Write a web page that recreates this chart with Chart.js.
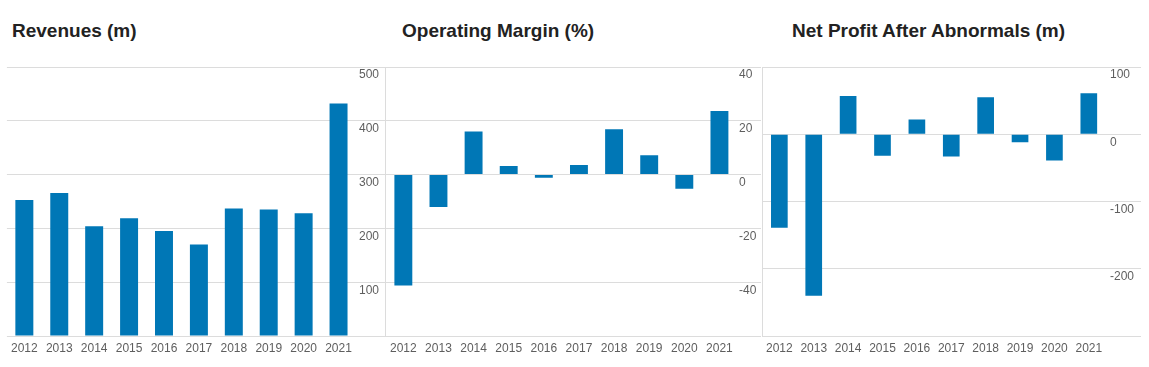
<!DOCTYPE html>
<html>
<head>
<meta charset="utf-8">
<script src="https://cdn.jsdelivr.net/npm/chart.js@4/dist/chart.umd.min.js"></script>
<style>
  body { margin: 0; background: #fff; width: 1149px; height: 367px; overflow: hidden; position: relative; }
  .title { position: absolute; top: 21px; font: bold 19px "Liberation Sans", Arial, sans-serif; line-height: 19px; color: #222; white-space: nowrap; }
  .box { position: absolute; top: 60px; height: 297px; }
</style>
</head>
<body>
<div class="title" style="left:12px">Revenues (m)</div>
<div class="title" style="left:402px">Operating Margin (%)</div>
<div class="title" style="left:792px">Net Profit After Abnormals (m)</div>

<div class="box" style="left:6px;width:379px"><canvas id="revenues"></canvas></div>
<div class="box" style="left:385px;width:376px"><canvas id="margin"></canvas></div>
<div class="box" style="left:761px;width:380px"><canvas id="profit"></canvas></div>

<script>
const years = ["2012", "2013", "2014", "2015", "2016", "2017", "2018", "2019", "2020", "2021"];

const revenues = [253, 266, 204, 219, 195, 170, 237, 235, 228, 432];
const operatingMargin = [-41.2, -12, 16, 3.2, -1.2, 3.6, 16.9, 7.2, -5.3, 23.6];
const netProfit = [-139, -240, 57, -32, 22, -33, 55, -12, -39, 61];

const revenueTicks = [100, 200, 300, 400, 500];
const marginTicks = [-40, -20, 0, 20, 40];
const profitTicks = [-200, -100, 0, 100];

const barColor = "#0077b6";
const gridColor = "#dcdcdc";
const labelColor = "#5e5e5e";
const font = { family: "'Liberation Sans', Arial, sans-serif", size: 12 };

function makeChart(id, values, min, max, ticks, axisWidth, labelGap, barPct, leftBorder) {
  const scales = {
    x: {
      grid: { display: false, drawTicks: false },
      border: { display: false },
      ticks: { color: labelColor, font: font, padding: 5, maxRotation: 0, autoSkip: false },
      afterFit: (s) => { s.height = 21; }
    },
    y: {
      position: "right",
      min: min,
      max: max,
      grid: { color: gridColor, drawTicks: true, tickLength: axisWidth, tickColor: gridColor },
      border: { display: false },
      ticks: {
        color: labelColor,
        font: font,
        padding: labelGap - axisWidth,
        labelOffset: 8,
        callback: (v) => (v === min ? "" : v)
      },
      afterBuildTicks: (s) => { s.ticks = [min].concat(ticks).map((v) => ({ value: v })); },
      afterFit: (s) => { s.width = axisWidth; }
    }
  };
  if (leftBorder) {
    scales.yl = {
      position: "left",
      grid: { display: false, drawTicks: false },
      border: { display: true, color: gridColor },
      ticks: { display: false }
    };
  }
  return new Chart(document.getElementById(id), {
    type: "bar",
    data: {
      labels: years,
      datasets: [{
        data: values,
        backgroundColor: barColor,
        borderWidth: 0,
        barPercentage: barPct,
        categoryPercentage: 1
      }]
    },
    options: {
      responsive: true,
      maintainAspectRatio: false,
      animation: false,
      layout: { padding: { top: 7, left: 0, right: 0, bottom: 0 } },
      plugins: { legend: { display: false }, tooltip: { enabled: false } },
      scales: scales
    }
  });
}

makeChart("revenues", revenues, 0, 500, revenueTicks, 29, 3, 0.515, false);
makeChart("margin", operatingMargin, -60, 40, marginTicks, 24, 2, 0.51, true);
makeChart("profit", netProfit, -300, 100, profitTicks, 35, 4, 0.485, true);
</script>
</body>
</html>
